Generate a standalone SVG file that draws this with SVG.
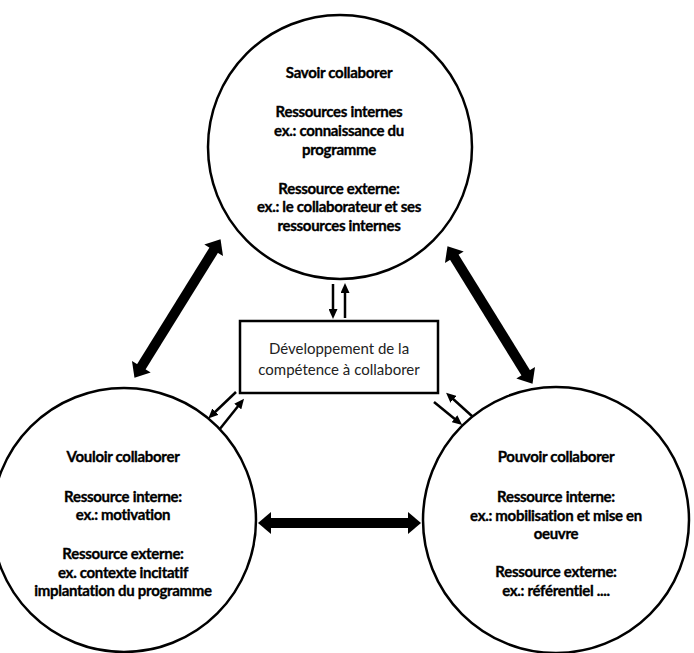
<svg xmlns="http://www.w3.org/2000/svg" width="694" height="653" viewBox="0 0 694 653">
<style>
.circ{fill:#fff;stroke:#000;stroke-width:2.5}
.box{fill:#fff;stroke:#000;stroke-width:2.5}
.t{font-family:Lato,"Liberation Sans",sans-serif;font-weight:bold;font-size:15px;text-anchor:middle;fill:#000;stroke:#000;stroke-width:0.35;letter-spacing:-0.3px}
.c{font-family:Lato,"Liberation Sans",sans-serif;font-size:15px;text-anchor:middle;fill:#222}
.thick{stroke:#000;stroke-width:10;fill:none;marker-start:url(#bigHead);marker-end:url(#bigHead)}
.thin{stroke:#000;stroke-width:2.5;fill:none;marker-end:url(#smallHead)}
</style>
<defs>
<marker id="bigHead" markerUnits="userSpaceOnUse" markerWidth="16" markerHeight="22" viewBox="0 0 14 22" refX="1" refY="11" orient="auto-start-reverse">
<path d="M0,0 L13,11 L0,22 z" fill="#000"/>
</marker>
<marker id="smallHead" markerUnits="userSpaceOnUse" markerWidth="10" markerHeight="9" viewBox="0 0 10 9" refX="2" refY="4.5" orient="auto">
<path d="M0,0 L10,4.5 L0,9 z" fill="#000"/>
</marker>
</defs>
<rect width="694" height="653" fill="#fff"/>
<g id="connectors">
<line class="thick" x1="140.8" y1="367.6" x2="214.2" y2="249.4"/>
<line class="thick" x1="453.8" y1="256.4" x2="526.2" y2="373.6"/>
<line class="thick" x1="270" y1="523" x2="409" y2="523"/>
<line class="thin" x1="333" y1="284" x2="333" y2="311"/>
<line class="thin" x1="345" y1="318" x2="345" y2="291"/>
<line class="thin" x1="236" y1="392" x2="214" y2="413"/>
<line class="thin" x1="219" y1="430" x2="239" y2="405"/>
<line class="thin" x1="434" y1="402" x2="456" y2="420"/>
<line class="thin" x1="473" y1="417" x2="452" y2="398"/>
</g>
<g id="savoir">
<circle class="circ" cx="340" cy="147" r="132"/>
<text class="t" x="339" y="78">Savoir collaborer</text>
<text class="t" x="339" y="117">Ressources internes</text>
<text class="t" x="339" y="136">ex.: connaissance du</text>
<text class="t" x="339" y="155">programme</text>
<text class="t" x="339" y="194">Ressource externe:</text>
<text class="t" x="339" y="212">ex.: le collaborateur et ses</text>
<text class="t" x="339" y="231">ressources internes</text>
</g>
<g id="vouloir">
<circle class="circ" cx="124" cy="520" r="132"/>
<text class="t" x="123" y="462">Vouloir collaborer</text>
<text class="t" x="123" y="502">Ressource interne:</text>
<text class="t" x="123" y="520">ex.: motivation</text>
<text class="t" x="123" y="559">Ressource externe:</text>
<text class="t" x="123" y="578">ex. contexte incitatif</text>
<text class="t" x="123" y="596">implantation du programme</text>
</g>
<g id="pouvoir">
<circle class="circ" cx="556" cy="520" r="133"/>
<text class="t" x="556" y="462">Pouvoir collaborer</text>
<text class="t" x="556" y="502">Ressource interne:</text>
<text class="t" x="556" y="521">ex.: mobilisation et mise en</text>
<text class="t" x="556" y="539">oeuvre</text>
<text class="t" x="556" y="577">Ressource externe:</text>
<text class="t" x="556" y="596">ex.: référentiel ....</text>
</g>
<g id="developpement">
<rect class="box" x="240" y="321" width="198" height="72"/>
<text class="c" x="339" y="354">Développement de la</text>
<text class="c" x="339" y="375">compétence à collaborer</text>
</g>
</svg>
